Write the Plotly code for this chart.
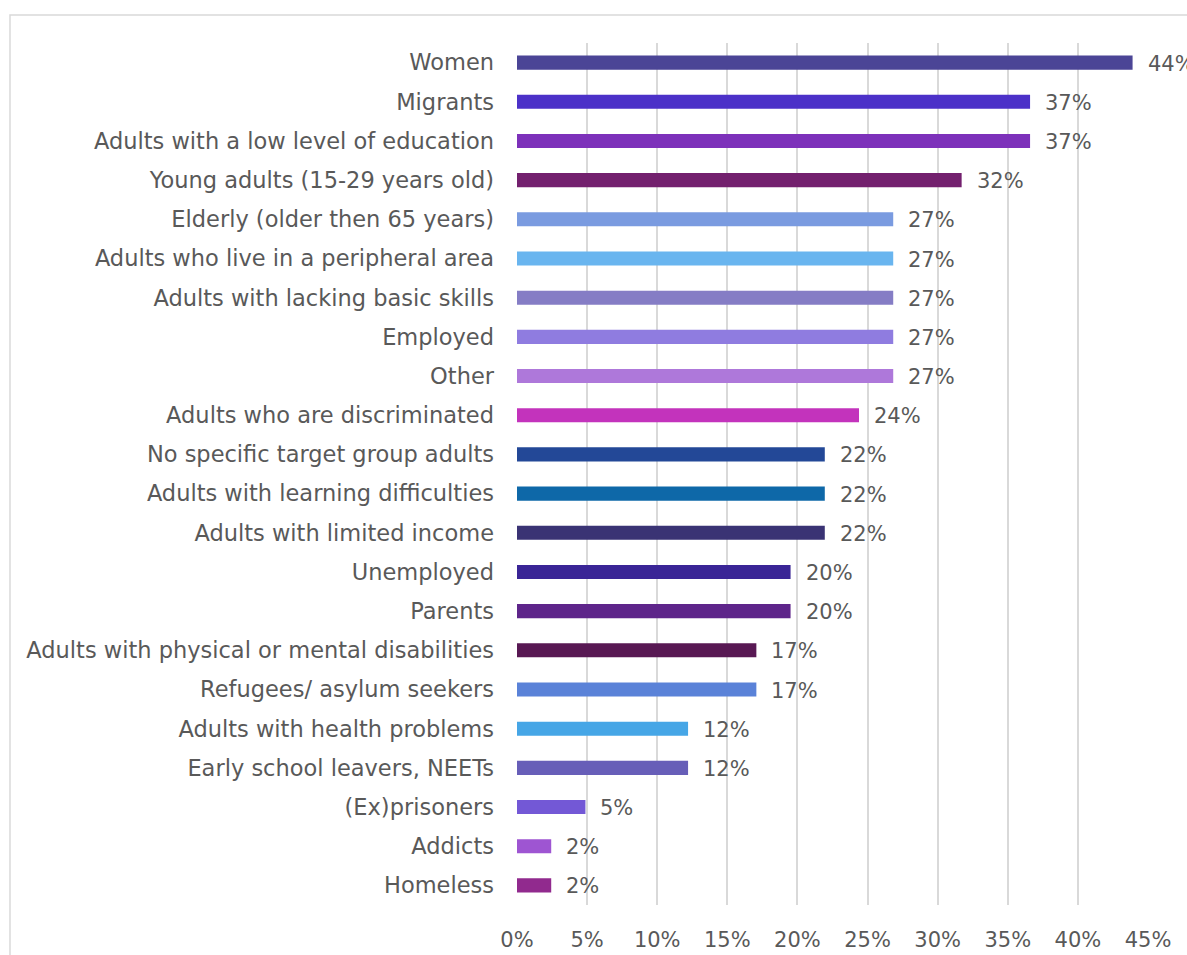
import plotly.graph_objects as go

# Target groups, top to bottom
categories = [
    "Women",
    "Migrants",
    "Adults with a low level of education",
    "Young adults (15-29 years old)",
    "Elderly (older then 65 years)",
    "Adults who live in a peripheral area",
    "Adults with lacking basic skills",
    "Employed",
    "Other",
    "Adults who are discriminated",
    "No specific target group adults",
    "Adults with learning difficulties",
    "Adults with limited income",
    "Unemployed",
    "Parents",
    "Adults with physical or mental disabilities",
    "Refugees/ asylum seekers",
    "Adults with health problems",
    "Early school leavers, NEETs",
    "(Ex)prisoners",
    "Addicts",
    "Homeless",
]

# Share of respondents (%)
shares = [
    43.9, 36.59, 36.59, 31.71, 26.83, 26.83, 26.83, 26.83, 26.83, 24.39,
    21.95, 21.95, 21.95, 19.51, 19.51, 17.07, 17.07, 12.2, 12.2, 4.88,
    2.44, 2.44,
]

bar_colors = [
    "#4B4596", "#4C31C8", "#7D31BA", "#73206E", "#7A9BE0", "#69B5EF",
    "#857DC5", "#8F7CE0", "#AE78DA", "#C333BC", "#234897", "#0E68A8",
    "#3A3374", "#3A2596", "#5E258A", "#581853", "#5A82D8", "#46A6E6",
    "#675EB8", "#7358D6", "#9E55D2", "#912A8E",
]

tick_values = [0, 5, 10, 15, 20, 25, 30, 35, 40, 45]
tick_labels = ["0%", "5%", "10%", "15%", "20%", "25%", "30%", "35%", "40%", "45%"]

FONT = "'DejaVu Sans', Lato, sans-serif"
GREY = "#595959"
CAT_SIZE = 22.5
NUM_SIZE = 21

fig = go.Figure(
    go.Bar(
        x=shares,
        y=categories,
        orientation="h",
        marker=dict(color=bar_colors, line=dict(width=0)),
        width=0.36,
        hoverinfo="x+y",
    )
)

# value labels to the right of each bar
for cat, val in zip(categories, shares):
    fig.add_annotation(
        x=val, y=cat, xref="x", yref="y",
        text=f"{val:.0f}%", showarrow=False,
        xanchor="left", yanchor="middle", xshift=13, yshift=-1,
        font=dict(family=FONT, size=NUM_SIZE, color=GREY),
    )

# outer chart frame
fig.add_shape(
    type="rect", xref="paper", yref="paper",
    x0=-0.8035, x1=1.3, y0=-0.2, y1=1.0325,
    line=dict(color="#D9D9D9", width=1.5), fillcolor="rgba(0,0,0,0)",
    layer="below",
)

fig.update_layout(
    width=1187, height=955,
    margin=dict(l=517, r=39, t=43, b=50, pad=0, autoexpand=False),
    paper_bgcolor="white", plot_bgcolor="white",
    showlegend=False,
    font=dict(family=FONT, size=NUM_SIZE, color=GREY),
    bargap=0.64,
    xaxis=dict(
        range=[0, 45],
        tickvals=tick_values, ticktext=tick_labels,
        showgrid=True, gridcolor="#D9D9D9", gridwidth=1.5,
        zeroline=False, showline=False,
        ticks="", ticklabelstandoff=20,
        tickfont=dict(family=FONT, size=NUM_SIZE, color=GREY),
        automargin=False,
        fixedrange=True,
    ),
    yaxis=dict(
        categoryorder="array", categoryarray=categories,
        autorange="reversed",
        showgrid=False, zeroline=False, showline=False,
        ticks="", ticklabelstandoff=22,
        tickfont=dict(family=FONT, size=CAT_SIZE, color=GREY),
        automargin=False,
        fixedrange=True,
    ),
)

fig.write_html("out.html")
